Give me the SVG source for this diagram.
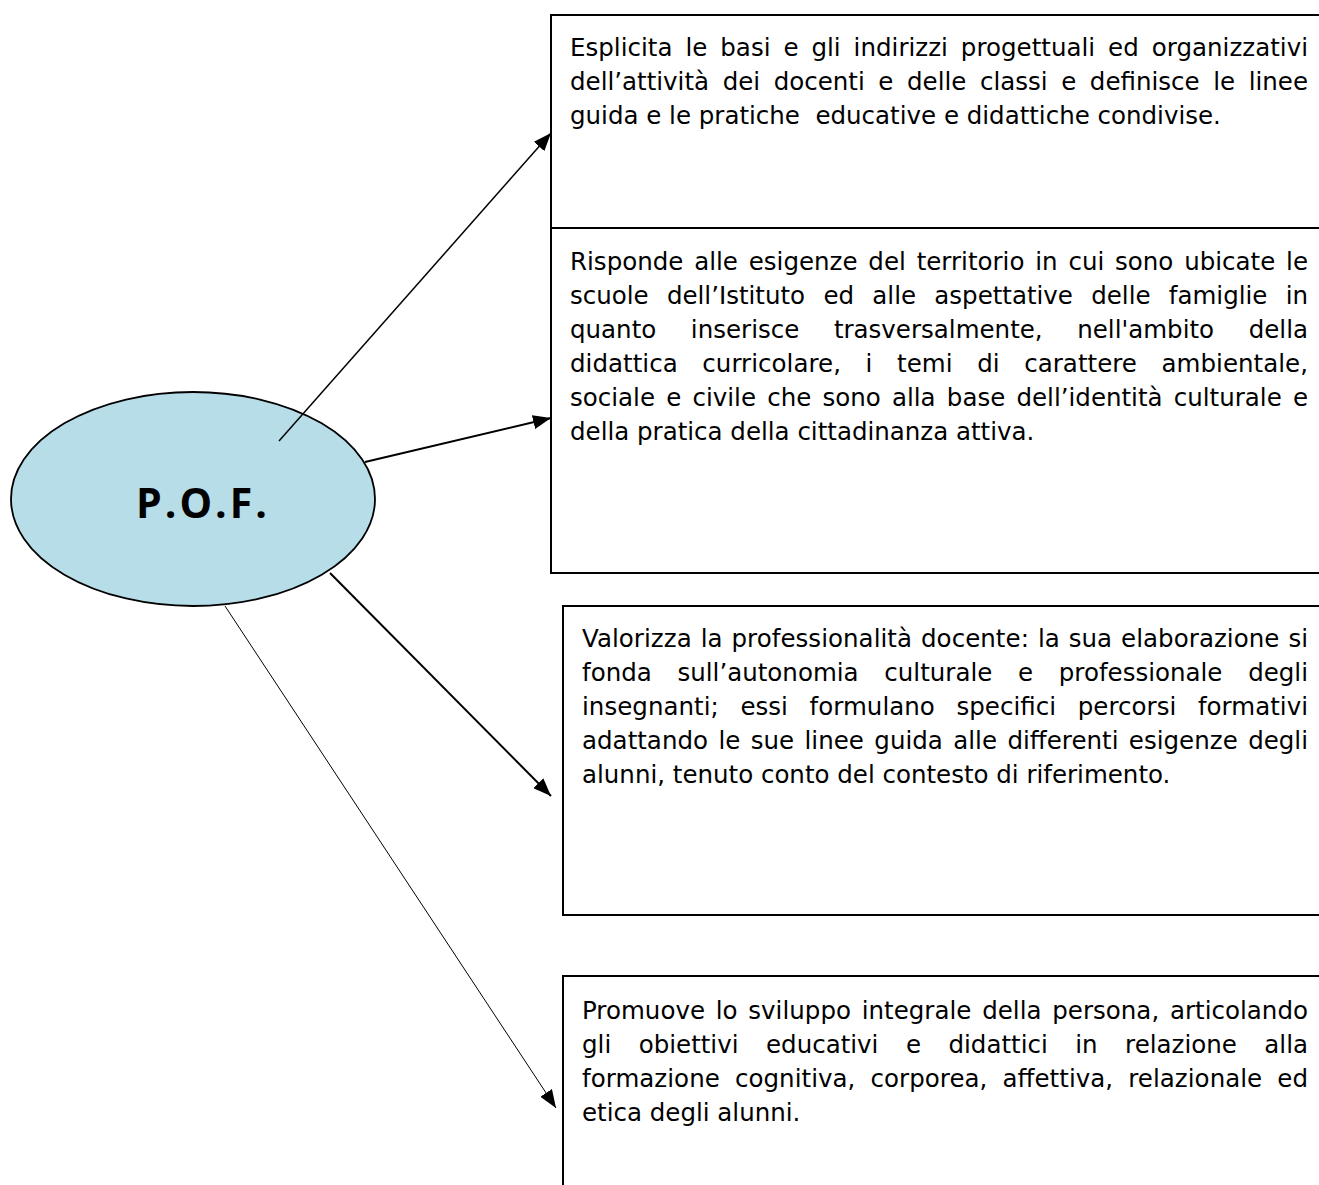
<svg xmlns="http://www.w3.org/2000/svg" width="1319" height="1185" viewBox="0 0 1319 1185">
<style>
.box{fill:#fff;stroke:#000;stroke-width:2}
.t{font-family:"DejaVu Sans",Verdana,sans-serif;font-size:24.5px;fill:#000}
.c{fill:none;stroke:#000}
</style>
<defs>
<marker id="ah" markerUnits="userSpaceOnUse" markerWidth="19" markerHeight="14" refX="18" refY="7" orient="auto">
<path d="M0,0 L18,7 L0,14 z" fill="#000"/>
</marker>
</defs>
<rect width="1319" height="1185" fill="#fff"/>
<g id="box1">
<rect class="box" x="551" y="15" width="790" height="213"/>
<text class="t" x="570" y="56" word-spacing="5.1" textLength="738" lengthAdjust="spacing">Esplicita le basi e gli indirizzi progettuali ed organizzativi</text>
<text class="t" x="570" y="90" word-spacing="5.8" textLength="738" lengthAdjust="spacing">dell’attività dei docenti e delle classi e definisce le linee</text>
<text class="t" x="570" y="124" xml:space="preserve">guida e le pratiche  educative e didattiche condivise.</text>
</g>
<g id="box2">
<rect class="box" x="551" y="228" width="790" height="345"/>
<text class="t" x="570" y="270" word-spacing="3" textLength="738" lengthAdjust="spacing">Risponde alle esigenze del territorio in cui sono ubicate le</text>
<text class="t" x="570" y="304" word-spacing="10.5" textLength="738" lengthAdjust="spacing">scuole dell’Istituto ed alle aspettative delle famiglie in</text>
<text class="t" x="570" y="338" word-spacing="26.8" textLength="738" lengthAdjust="spacing">quanto inserisce trasversalmente, nell'ambito della</text>
<text class="t" x="570" y="372" word-spacing="16.8" textLength="738" lengthAdjust="spacing">didattica curricolare, i temi di carattere ambientale,</text>
<text class="t" x="570" y="406" word-spacing="3.4" textLength="738" lengthAdjust="spacing">sociale e civile che sono alla base dell’identità culturale e</text>
<text class="t" x="570" y="440">della pratica della cittadinanza attiva.</text>
</g>
<g id="box3">
<rect class="box" x="563" y="606" width="780" height="309"/>
<text class="t" x="582" y="647" word-spacing="1.1" textLength="726" lengthAdjust="spacing">Valorizza la professionalità docente: la sua elaborazione si</text>
<text class="t" x="582" y="681" word-spacing="17.9" textLength="726" lengthAdjust="spacing">fonda sull’autonomia culturale e professionale degli</text>
<text class="t" x="582" y="715" word-spacing="13.8" textLength="726" lengthAdjust="spacing">insegnanti; essi formulano specifici percorsi formativi</text>
<text class="t" x="582" y="749" word-spacing="2.6" textLength="726" lengthAdjust="spacing">adattando le sue linee guida alle differenti esigenze degli</text>
<text class="t" x="582" y="783">alunni, tenuto conto del contesto di riferimento.</text>
</g>
<g id="box4">
<rect class="box" x="563" y="976" width="780" height="240"/>
<text class="t" x="582" y="1019" word-spacing="2.9" textLength="726" lengthAdjust="spacing">Promuove lo sviluppo integrale della persona, articolando</text>
<text class="t" x="582" y="1053" word-spacing="19.7" textLength="726" lengthAdjust="spacing">gli obiettivi educativi e didattici in relazione alla</text>
<text class="t" x="582" y="1087" word-spacing="7.3" textLength="726" lengthAdjust="spacing">formazione cognitiva, corporea, affettiva, relazionale ed</text>
<text class="t" x="582" y="1121">etica degli alunni.</text>
</g>
<g id="pof">
<ellipse cx="193" cy="499" rx="182" ry="107" fill="#b7dde8" stroke="#000" stroke-width="1.8"/>
<text x="203" y="518" text-anchor="middle" font-family="'Open Sans','Noto Sans',sans-serif" font-weight="bold" font-size="41" letter-spacing="3" fill="#000">P.O.F.</text>
</g>
<g id="connectors">
<path class="c" d="M279,441 L551,133" stroke-width="1.5" marker-end="url(#ah)"/>
<path class="c" d="M365,462 L551,418" stroke-width="2" marker-end="url(#ah)"/>
<path class="c" d="M330,573 L551,796" stroke-width="2" marker-end="url(#ah)"/>
<path class="c" d="M225,606 L556,1108" stroke-width="1" marker-end="url(#ah)"/>
</g>
</svg>
